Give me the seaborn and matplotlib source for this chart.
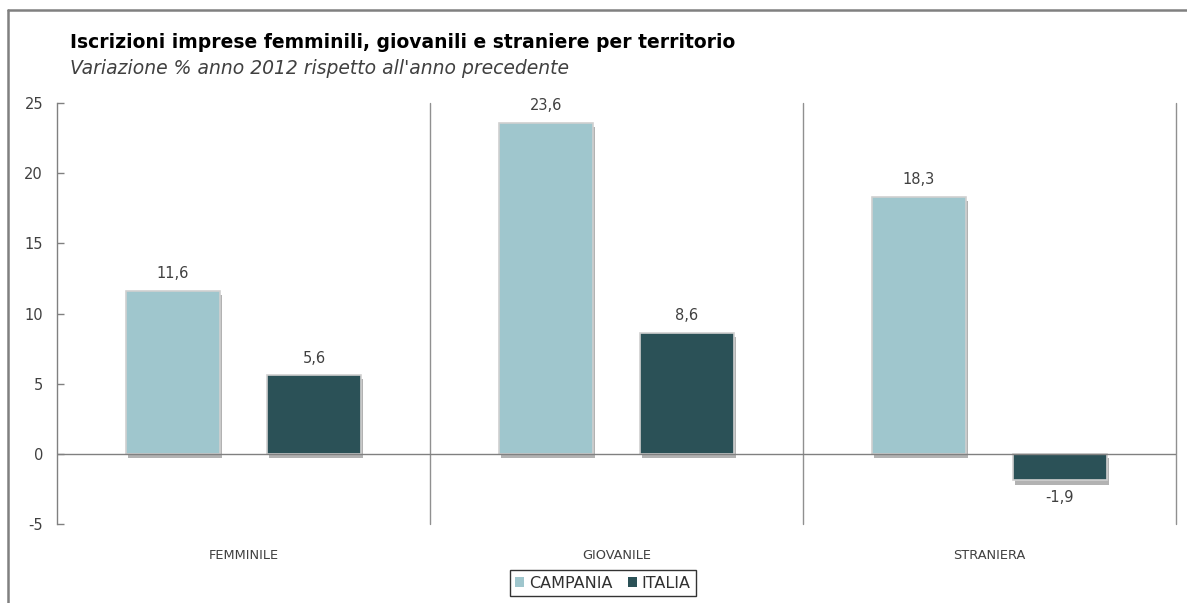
import matplotlib
matplotlib.use("Agg")
import matplotlib.pyplot as plt
import matplotlib.patheffects as pe
from matplotlib.lines import Line2D
from matplotlib.patches import Patch
import seaborn as sns
import pandas as pd

# ---- data ----
categories = ["FEMMINILE", "GIOVANILE", "STRANIERA"]
series_names = ["CAMPANIA", "ITALIA"]
campania = [11.6, 23.6, 18.3]
italia = [5.6, 8.6, -1.9]
yticks = [-5, 0, 5, 10, 15, 20, 25]
title = "Iscrizioni imprese femminili, giovanili e straniere per territorio"
subtitle = "Variazione % anno 2012 rispetto all'anno precedente"

colors = ["#9FC6CD", "#2B5157"]

df = pd.DataFrame({
    "categoria": categories * 2,
    "territorio": [series_names[0]] * 3 + [series_names[1]] * 3,
    "valore": campania + italia,
})

sns.set_theme(style="white")
FONT = ["DejaVu Sans"]
plt.rcParams["font.family"] = FONT

fig = plt.figure(figsize=(11.87, 6.03), dpi=100)
ax = fig.add_axes([57 / 1187, 1 - 524 / 603, (1176 - 57) / 1187, (524 - 103) / 603])

sns.barplot(data=df, x="categoria", y="valore", hue="territorio",
            order=categories, hue_order=series_names, palette=colors, saturation=1,
            width=0.756, gap=1 / 3, edgecolor="#d0d0d0", linewidth=1.2,
            legend=False, ax=ax)

shadow = [pe.SimplePatchShadow(offset=(1.5, -3), shadow_rgbFace="#555555", alpha=0.45), pe.Normal()]
for cont, vals in zip(ax.containers, [campania, italia]):
    for p in cont:
        p.set_path_effects(shadow)
    ax.bar_label(cont, labels=[f"{v:.1f}".replace(".", ",") for v in vals],
                 padding=7, fontsize=10.5, color="#404040")

ax.set_xlim(-0.5, 2.5)
ax.set_ylim(-5, 25)
ax.set_yticks(yticks)
ax.set_yticklabels([str(t) for t in yticks], fontsize=10.5, color="#404040")
ax.set_xlabel("")
ax.set_ylabel("")
ax.tick_params(axis="y", direction="in", length=5, width=1, color="#808080", left=True, pad=10)
ax.tick_params(axis="x", length=0, labelsize=9.3, labelcolor="#404040", pad=18)

for s in ["top", "right", "bottom"]:
    ax.spines[s].set_visible(False)
ax.spines["left"].set_color("#808080")
ax.spines["left"].set_linewidth(1)

ax.axhline(0, color="#808080", lw=1, zorder=1)
for xv in [0.5, 1.5, 2.5]:
    ax.axvline(xv, color="#909090", lw=1, zorder=0, clip_on=False)

handles = [Patch(facecolor=c, edgecolor="none") for c in colors]
leg = fig.legend(handles, series_names, loc="center", bbox_to_anchor=(603 / 1187, 1 - 583 / 603),
                 ncol=2, frameon=True, fancybox=False, fontsize=11.5, handlelength=0.55,
                 handleheight=0.55, handletextpad=0.3, columnspacing=1.0, borderpad=0.35)
leg.get_frame().set_edgecolor("#000000")
leg.get_frame().set_linewidth(1)
for t in leg.get_texts():
    t.set_color("#303030")

fig.text(70 / 1187, 1 - 42 / 603, title, fontsize=13.5, fontweight="bold", color="#000000",
         ha="left", va="center")
fig.text(70 / 1187, 1 - 69 / 603, subtitle, fontsize=13.5, style="italic", color="#404040",
         ha="left", va="center")

# outer frame
fig.add_artist(Line2D([8 / 1187, 1], [1 - 10 / 603, 1 - 10 / 603], color="#808080", lw=1.8,
                      transform=fig.transFigure))
fig.add_artist(Line2D([8 / 1187, 8 / 1187], [0, 1 - 10 / 603], color="#808080", lw=1.8,
                      transform=fig.transFigure))

fig.savefig("out.png", dpi=100, facecolor="white")
